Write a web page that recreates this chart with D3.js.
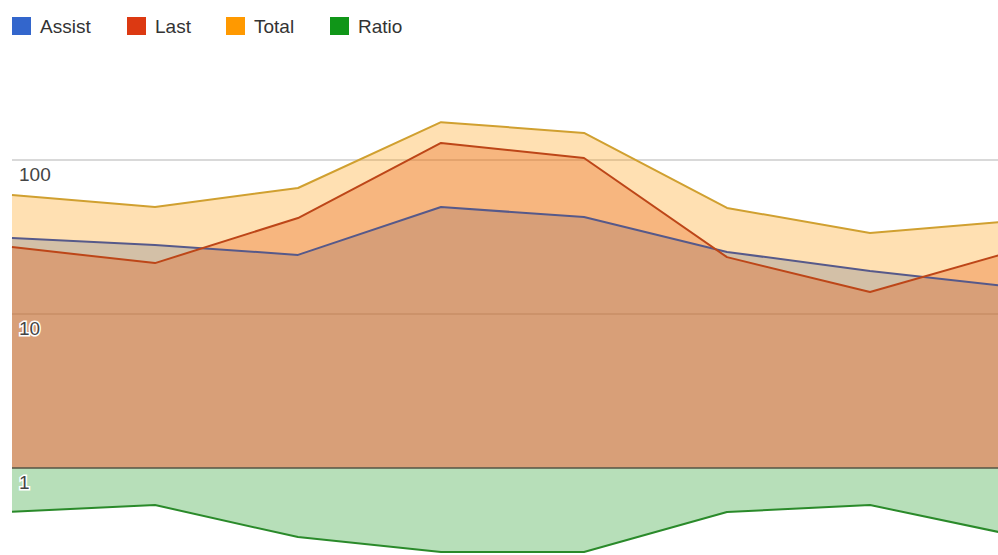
<!DOCTYPE html>
<html>
<head>
<meta charset="utf-8">
<script src="https://cdn.jsdelivr.net/npm/d3@7"></script>
<style>
  body { margin: 0; background: #fff; }
  svg { display: block; font-family: Arial, "Liberation Sans", sans-serif; }
</style>
</head>
<body>
<svg id="chart" width="998" height="555"></svg>
<script>
// values (log scale, baseline at 1)
var points = [0, 1, 2, 3, 4, 5, 6, 7];
var assist = [31.2, 28.1, 24.2, 49.5, 42.6, 25.3, 19.0, 15.0];
var last   = [27.2, 21.4, 42.0, 129, 103, 23.4, 13.9, 25.6];
var total  = [59.3, 49.5, 65.8, 176, 150, 48.8, 33.6, 40.2];
var ratio  = [0.52, 0.575, 0.356, 0.285, 0.285, 0.518, 0.575, 0.367];
var tickValues = [1, 10, 100];
var tickLabels = ["1", "10", "100"];

var series = [
  { name: "Assist", values: assist, fill: "#3366cc", line: "#56598a", key: "#3366cc" },
  { name: "Last",   values: last,   fill: "#dc3912", line: "#bd4618", key: "#dc3912" },
  { name: "Total",  values: total,  fill: "#ff9900", line: "#d0a030", key: "#ff9900" },
  { name: "Ratio",  values: ratio,  fill: "#109618", line: "#2a8a2a", key: "#109618" }
];

var svg = d3.select("#chart");

var x = d3.scalePoint().domain(points).range([12, 1013]);
var y = d3.scaleLog().domain([1, 100]).range([468, 160]);

// grid lines
svg.append("g").selectAll("line")
  .data(tickValues.filter(function(d) { return d != 1; }))
  .enter().append("line")
  .attr("x1", 12).attr("x2", 998)
  .attr("y1", function(d) { return y(d); })
  .attr("y2", function(d) { return y(d); })
  .attr("stroke", "#cccccc")
  .attr("stroke-width", 1.5);

var area = d3.area()
  .x(function(d, i) { return x(i); })
  .y0(y(1))
  .y1(function(d) { return y(d); });

var line = d3.line()
  .x(function(d, i) { return x(i); })
  .y(function(d) { return y(d); });

// areas first, then lines
series.forEach(function(s) {
  svg.append("path")
    .attr("d", area(s.values))
    .attr("fill", s.fill)
    .attr("fill-opacity", 0.3);
});

series.forEach(function(s) {
  svg.append("path")
    .attr("d", line(s.values))
    .attr("fill", "none")
    .attr("stroke", s.line)
    .attr("stroke-width", 2)
    .attr("stroke-linejoin", "round");
});

// baseline at 1
svg.append("line")
  .attr("x1", 12).attr("x2", 998)
  .attr("y1", y(1)).attr("y2", y(1))
  .attr("stroke", "#555544")
  .attr("stroke-width", 1.5);

// axis labels inside the plot
svg.append("g").selectAll("text")
  .data(tickValues)
  .enter().append("text")
  .attr("x", 19)
  .attr("y", function(d) { return y(d) + 21; })
  .attr("font-size", 19)
  .attr("fill", "#444")
  .attr("stroke", "#fff")
  .attr("stroke-width", 3)
  .attr("paint-order", "stroke")
  .text(function(d, i) { return tickLabels[i]; });

// legend
var legendX = [12, 127, 226, 330];
var legend = svg.append("g").selectAll("g")
  .data(series)
  .enter().append("g")
  .attr("transform", function(d, i) { return "translate(" + legendX[i] + ",17)"; });

legend.append("rect")
  .attr("width", 19).attr("height", 18)
  .attr("fill", function(d) { return d.key; });

legend.append("text")
  .attr("x", 28).attr("y", 16)
  .attr("font-size", 19)
  .attr("fill", "#333")
  .text(function(d) { return d.name; });
</script>
</body>
</html>
